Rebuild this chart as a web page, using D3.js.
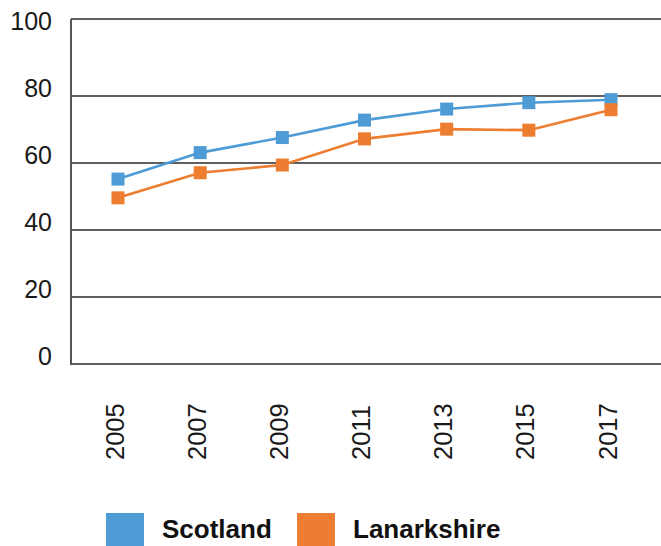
<!DOCTYPE html>
<html>
<head>
<meta charset="utf-8">
<script src="https://cdn.jsdelivr.net/npm/d3@7"></script>
<style>
  body { margin: 0; background: #fff; }
  svg { display: block; font-family: "Liberation Sans", Arial, sans-serif; }
</style>
</head>
<body>
<svg id="chart" width="661" height="546"></svg>
<script>
// chart data
const years = ["2005", "2007", "2009", "2011", "2013", "2015", "2017"];
const scotland = [55.2, 63.1, 67.6, 72.8, 76.1, 78.0, 78.9];
const lanarkshire = [49.6, 57.1, 59.4, 67.2, 70.1, 69.8, 75.9];
const yTicks = [0, 20, 40, 60, 80, 100];
const seriesNames = ["Scotland", "Lanarkshire"];
const colours = ["#4f9bd5", "#ed7d31"];

const svg = d3.select("#chart");
const plotLeft = 71, plotRight = 661, plotTop = 19, plotBottom = 364;

// scales
let x = d3.scalePoint()
    .domain(years)
    .range([118, 611]);
let y = d3.scaleLinear()
    .domain([0, 100])
    .range([plotBottom, 29]);

// gridlines (the 100 line is replaced by the top frame line)
svg.append("g")
    .selectAll("line")
    .data(yTicks.filter(d => d < 100))
    .join("line")
    .attr("x1", plotLeft)
    .attr("x2", plotRight)
    .attr("y1", d => y(d))
    .attr("y2", d => y(d))
    .attr("stroke", "#2a2a2a")
    .attr("stroke-width", 1.4);

svg.append("line")
    .attr("x1", plotLeft).attr("x2", plotRight)
    .attr("y1", plotTop).attr("y2", plotTop)
    .attr("stroke", "#2a2a2a")
    .attr("stroke-width", 1.4);

// left axis line
svg.append("line")
    .attr("x1", plotLeft).attr("x2", plotLeft)
    .attr("y1", plotTop).attr("y2", plotBottom + 1)
    .attr("stroke", "#555")
    .attr("stroke-width", 2);

// y tick labels
svg.append("g")
    .selectAll("text")
    .data(yTicks)
    .join("text")
    .attr("x", 52)
    .attr("y", d => y(d) - 8)
    .attr("text-anchor", "end")
    .attr("dominant-baseline", "central")
    .attr("font-size", 25)
    .attr("fill", "#1a1a1a")
    .text(d => d);

// x tick labels, rotated
svg.append("g")
    .selectAll("text")
    .data(years)
    .join("text")
    .attr("transform", d => "translate(" + (x(d) - 3.5) + ",460) rotate(-90)")
    .attr("text-anchor", "start")
    .attr("dominant-baseline", "central")
    .attr("font-size", 25.5)
    .attr("fill", "#1a1a1a")
    .text(d => d);

// lines + square markers
let line = d3.line()
    .x((d, i) => x(years[i]))
    .y(d => y(d));

[scotland, lanarkshire].forEach(function (values, s) {
    svg.append("path")
        .datum(values)
        .attr("fill", "none")
        .attr("stroke", colours[s])
        .attr("stroke-width", 2.6)
        .attr("d", line);

    svg.append("g")
        .selectAll("rect")
        .data(values)
        .join("rect")
        .attr("x", (d, i) => x(years[i]) - 6.5)
        .attr("y", d => y(d) - 6.5)
        .attr("width", 13)
        .attr("height", 13)
        .attr("fill", colours[s]);
});

// legend
let legendX = [106, 297];
seriesNames.forEach(function (name, s) {
    svg.append("rect")
        .attr("x", legendX[s])
        .attr("y", 513)
        .attr("width", 38)
        .attr("height", 33)
        .attr("fill", colours[s]);
    svg.append("text")
        .attr("x", legendX[s] + 56)
        .attr("y", 538)
        .attr("font-size", 26)
        .attr("font-weight", "bold")
        .attr("fill", "#111")
        .text(name);
});
</script>
</body>
</html>
